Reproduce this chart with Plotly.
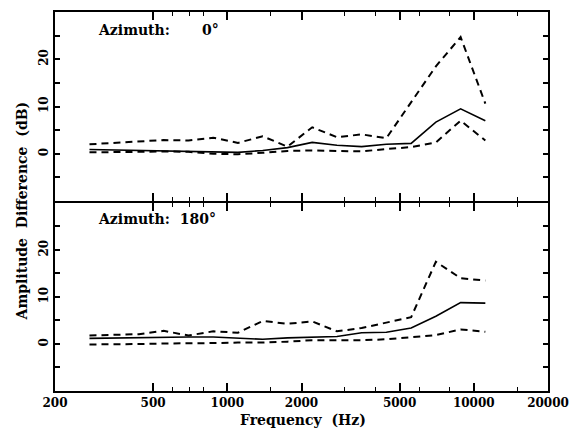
import plotly.graph_objects as go

freq_hz = [276, 348, 438, 552, 696, 877, 1105, 1392, 1754, 2210, 2785, 3508, 4420, 5570, 7017, 8841, 11139]

az0_upper = [2.0, 2.3, 2.6, 2.9, 2.8, 3.4, 2.3, 3.7, 1.5, 5.6, 3.5, 4.1, 3.3, 11.0, 18.5, 24.7, 10.6]
az0_mean = [0.9, 0.8, 0.7, 0.6, 0.5, 0.4, 0.3, 0.7, 1.3, 2.4, 1.8, 1.5, 2.0, 2.2, 6.7, 9.5, 7.0]
az0_lower = [0.3, 0.3, 0.4, 0.5, 0.4, 0.0, -0.1, 0.2, 0.6, 0.7, 0.6, 0.5, 1.0, 1.4, 2.4, 7.0, 2.8]

az180_upper = [1.8, 2.0, 2.1, 2.8, 1.8, 2.7, 2.4, 4.9, 4.3, 4.8, 2.7, 3.4, 4.5, 5.7, 17.5, 14.0, 13.5]
az180_mean = [1.2, 1.3, 1.3, 1.4, 1.5, 1.5, 1.3, 1.0, 1.3, 1.5, 1.6, 2.4, 2.5, 3.4, 5.9, 8.8, 8.7]
az180_lower = [-0.1, -0.1, 0.0, 0.1, 0.1, 0.2, 0.3, 0.3, 0.5, 0.8, 0.8, 0.8, 1.0, 1.4, 1.9, 3.1, 2.6]

x_major = [200, 500, 1000, 2000, 5000, 10000, 20000]
x_major_text = ["200", "500", "1000", "2000", "5000", "10000", "20000"]
x_minor = [600, 700, 800, 1500, 3000, 4000, 6000, 8000, 15000]
y_ticks = [-5, 0, 5, 10, 15, 20, 25]
y_ticktext = ["", "0", "", "10", "", "20", ""]

FONT = "DejaVu Serif"
solid = dict(color="black", width=1.6)
dashed = dict(color="black", width=2, dash="7px,5px")

fig = go.Figure()
for yax, series in (("y2", (az0_upper, az0_mean, az0_lower)), ("y", (az180_upper, az180_mean, az180_lower))):
    xax = "x2" if yax == "y2" else "x"
    up, mean, low = series
    fig.add_trace(go.Scatter(x=freq_hz, y=up, mode="lines", line=dashed, xaxis=xax, yaxis=yax, showlegend=False))
    fig.add_trace(go.Scatter(x=freq_hz, y=mean, mode="lines", line=solid, xaxis=xax, yaxis=yax, showlegend=False))
    fig.add_trace(go.Scatter(x=freq_hz, y=low, mode="lines", line=dashed, xaxis=xax, yaxis=yax, showlegend=False))

xcommon = dict(
    type="log", range=[2.30103, 4.30103], tickmode="array", tickvals=x_major,
    ticks="inside", ticklen=8, tickwidth=1.5, tickcolor="black",
    showline=True, linewidth=2, linecolor="black", mirror="ticks", showgrid=False, zeroline=False,
    minor=dict(tickmode="array", tickvals=x_minor, ticks="inside", ticklen=4, tickwidth=1.2, tickcolor="black", showgrid=False),
    tickfont=dict(family=FONT, size=12, color="black", weight="bold"),
)
ycommon = dict(
    range=[-10, 30], tickmode="array", tickvals=y_ticks, ticktext=y_ticktext, tickangle=-90,
    ticks="inside", ticklen=5, tickwidth=1.5, tickcolor="black",
    showline=True, linewidth=2, linecolor="black", mirror="ticks", showgrid=False, zeroline=False,
    tickfont=dict(family=FONT, size=12, color="black", weight="bold"),
)

split = 0.4987
half_gap = 1.0 / 381

fig.update_layout(
    width=579, height=432,
    margin=dict(l=55, r=26, t=10, b=41),
    paper_bgcolor="white", plot_bgcolor="white",
    xaxis=dict(xcommon, anchor="y", ticktext=x_major_text),
    xaxis2=dict(xcommon, anchor="y2", matches="x", showticklabels=False),
    yaxis=dict(ycommon, domain=[0, split - half_gap], anchor="x"),
    yaxis2=dict(ycommon, domain=[split + half_gap, 1], anchor="x2"),
    annotations=[
        dict(text="Azimuth:", x=0.084, y=0.953, xref="paper", yref="paper", xanchor="left", yanchor="middle",
             showarrow=False, font=dict(family=FONT, size=14, color="black", weight="bold")),
        dict(text="0°", x=0.295, y=0.953, xref="paper", yref="paper", xanchor="left", yanchor="middle",
             showarrow=False, font=dict(family=FONT, size=14, color="black", weight="bold")),
        dict(text="Azimuth:  180°", x=0.084, y=0.454, xref="paper", yref="paper", xanchor="left", yanchor="middle",
             showarrow=False, font=dict(family=FONT, size=14, color="black", weight="bold")),
        dict(text="Frequency  (Hz)", x=0.504, y=-0.076, xref="paper", yref="paper", xanchor="center", yanchor="middle",
             showarrow=False, font=dict(family=FONT, size=14, color="black", weight="bold")),
        dict(text="Amplitude  Difference  (dB)", x=-0.066, y=0.475, xref="paper", yref="paper", xanchor="center",
             yanchor="middle", textangle=-90, showarrow=False,
             font=dict(family=FONT, size=14, color="black", weight="bold")),
    ],
)

fig.write_html("out.html")
